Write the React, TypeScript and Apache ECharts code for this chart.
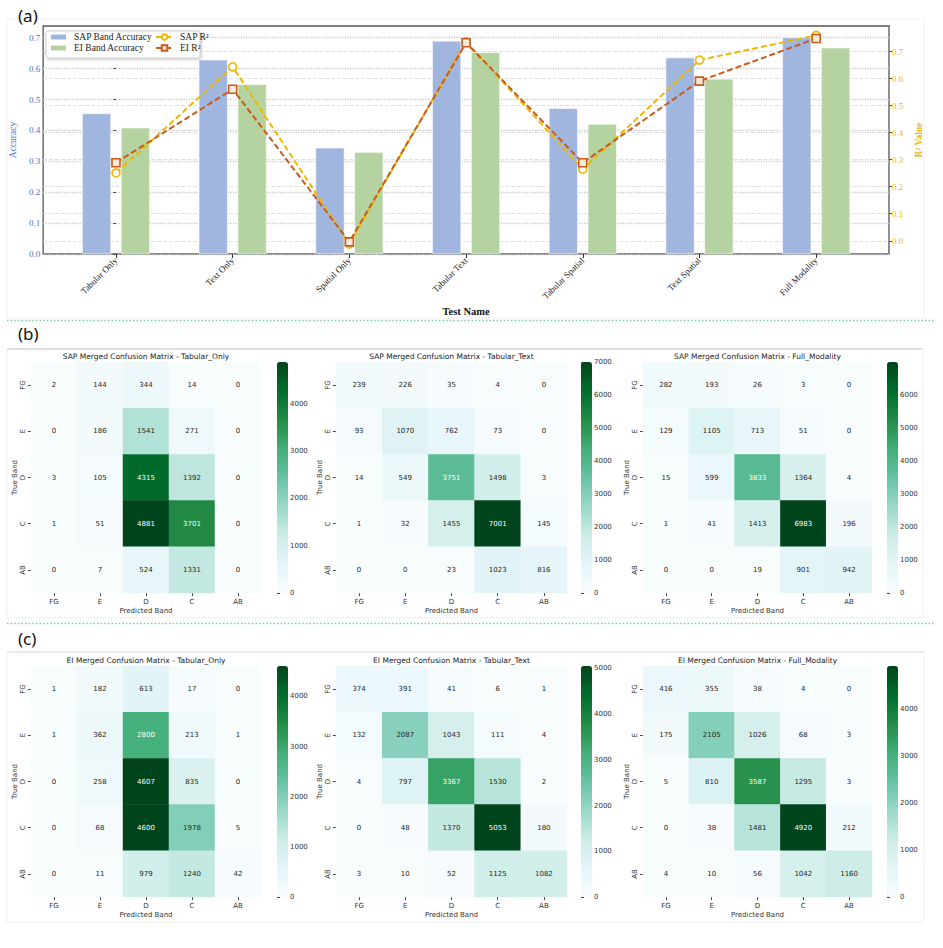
import React, { useEffect, useRef } from "react";
import * as echarts from "echarts";

// ---------- (a) data ----------
const testNames = ["Tabular Only", "Text Only", "Spatial Only", "Tabular Text", "Tabular Spatial", "Text Spatial", "Full Modality"];
const sapAcc = [0.455, 0.629, 0.344, 0.690, 0.472, 0.636, 0.701];
const eiAcc = [0.409, 0.550, 0.330, 0.653, 0.421, 0.567, 0.668];
const sapR2 = [0.251, 0.644, -0.012, 0.737, 0.265, 0.669, 0.760];
const eiR2 = [0.289, 0.561, -0.004, 0.733, 0.289, 0.591, 0.749];
const accTicks = [0, 0.1, 0.2, 0.3, 0.4, 0.5, 0.6, 0.7];
const r2Ticks = [0, 0.1, 0.2, 0.3, 0.4, 0.5, 0.6, 0.7];

// ---------- (b)/(c) data ----------
const bands = ["FG", "E", "D", "C", "AB"];
const sapTabularOnly = [[2, 144, 344, 14, 0], [0, 186, 1541, 271, 0], [3, 105, 4315, 1392, 0], [1, 51, 4881, 3701, 0], [0, 7, 524, 1331, 0]];
const sapTabularText = [[239, 226, 35, 4, 0], [93, 1070, 762, 73, 0], [14, 549, 3751, 1498, 3], [1, 32, 1455, 7001, 145], [0, 0, 23, 1023, 816]];
const sapFullModality = [[282, 193, 26, 3, 0], [129, 1105, 713, 51, 0], [15, 599, 3833, 1364, 4], [1, 41, 1413, 6983, 196], [0, 0, 19, 901, 942]];
const eiTabularOnly = [[1, 182, 613, 17, 0], [1, 362, 2800, 213, 1], [0, 258, 4607, 835, 0], [0, 68, 4600, 1978, 5], [0, 11, 979, 1240, 42]];
const eiTabularText = [[374, 391, 41, 6, 1], [132, 2087, 1043, 111, 4], [4, 797, 3367, 1530, 2], [0, 48, 1370, 5053, 180], [3, 10, 52, 1125, 1082]];
const eiFullModality = [[416, 355, 38, 4, 0], [175, 2105, 1026, 68, 3], [5, 810, 3587, 1295, 3], [0, 38, 1481, 4920, 212], [4, 10, 56, 1042, 1160]];
const cbTicks4 = [0, 1000, 2000, 3000, 4000];
const cbTicks5 = [0, 1000, 2000, 3000, 4000, 5000];
const cbTicks6 = [0, 1000, 2000, 3000, 4000, 5000, 6000];
const cbTicks7 = [0, 1000, 2000, 3000, 4000, 5000, 6000, 7000];
const matrixTitles = [
  "SAP Merged Confusion Matrix - Tabular_Only",
  "SAP Merged Confusion Matrix - Tabular_Text",
  "SAP Merged Confusion Matrix - Full_Modality",
  "EI Merged Confusion Matrix - Tabular_Only",
  "EI Merged Confusion Matrix - Tabular_Text",
  "EI Merged Confusion Matrix - Full_Modality",
];
const matrixData = [sapTabularOnly, sapTabularText, sapFullModality, eiTabularOnly, eiTabularText, eiFullModality];
const matrixTicks = [cbTicks4, cbTicks7, cbTicks6, cbTicks4, cbTicks5, cbTicks4];

const BUGN = ["#f7fcfd", "#e5f5f9", "#ccece6", "#99d8c9", "#66c2a4", "#41ae76", "#238b45", "#006d2c", "#00441b"];

function hexToRgb(h: string) {
  return [parseInt(h.slice(1, 3), 16), parseInt(h.slice(3, 5), 16), parseInt(h.slice(5, 7), 16)];
}
function bugnAt(t: number) {
  const n = BUGN.length - 1;
  const x = Math.max(0, Math.min(1, t)) * n;
  const i = Math.min(n - 1, Math.floor(x));
  const f = x - i;
  const a = hexToRgb(BUGN[i]);
  const b = hexToRgb(BUGN[i + 1]);
  return a.map((v, k) => v + (b[k] - v) * f);
}
function textColorFor(t: number) {
  const lin = bugnAt(t).map((v) => {
    const c = v / 255;
    return c <= 0.03928 ? c / 12.92 : Math.pow((c + 0.055) / 1.055, 2.4);
  });
  const L = 0.2126 * lin[0] + 0.7152 * lin[1] + 0.0722 * lin[2];
  return L < 0.408 ? "#ffffff" : "#262626";
}

const SERIF = "Liberation Serif";
const SANS = "DejaVu Sans";
const BLUE_TXT = "#4a72cf";
const GOLD = "#f2b600";
const ORANGE = "#c85a1c";

// layout
const colLeft = [31, 336, 643];
const colWidth = [230, 231, 229];
const cbLeft = [277, 581, 887];
const cbWidth = 11;
const rowTop = [362, 666];
const cellH = 231;

function buildOption() {
  const grid: any[] = [{ left: 41, top: 26, width: 848, height: 228, show: true, borderColor: "#555", borderWidth: 1.3, backgroundColor: "transparent" }];
  const xAxis: any[] = [
    {
      type: "value",
      gridIndex: 0,
      min: -0.624,
      max: 6.624,
      axisLine: { show: false },
      splitLine: { show: false },
      axisTick: { show: true, customValues: testNames.map((_, i) => i), length: 4, lineStyle: { color: "#333" } },
      axisLabel: {
        customValues: testNames.map((_, i) => i),
        formatter: (v: number) => testNames[Math.round(v)],
        rotate: 45,
        fontFamily: SERIF,
        fontSize: 9,
        color: "#222",
        margin: 5,
      },
      name: "Test Name",
      nameLocation: "middle",
      nameGap: 52,
      nameTextStyle: { fontFamily: SERIF, fontWeight: "bold", fontSize: 10.5, color: "#111" },
    },
  ];
  const yAxis: any[] = [
    {
      type: "value",
      gridIndex: 0,
      min: 0,
      max: 0.738,
      axisLine: { show: false },
      axisTick: { show: true, customValues: accTicks, length: 3, lineStyle: { color: "#555" } },
      axisLabel: { customValues: accTicks, formatter: (v: number) => v.toFixed(1), color: BLUE_TXT, fontFamily: SERIF, fontSize: 9, margin: 3 },
      splitLine: { show: true, lineStyle: { color: "#c9c9c9", type: "dotted", width: 1.3 } },
      name: "Accuracy",
      nameLocation: "middle",
      nameGap: 18,
      nameTextStyle: { fontFamily: SERIF, fontSize: 9.5, color: BLUE_TXT },
    },
    {
      type: "value",
      gridIndex: 0,
      position: "right",
      min: -0.049,
      max: 0.795,
      axisLine: { show: false },
      axisTick: { show: true, customValues: r2Ticks, length: 3, lineStyle: { color: "#555" } },
      axisLabel: { customValues: r2Ticks, formatter: (v: number) => v.toFixed(1), color: GOLD, fontFamily: SERIF, fontSize: 9, margin: 3 },
      splitLine: { show: true, lineStyle: { color: "#e0e0e0", type: "dashed", width: 1 } },
      name: "R² Value",
      nameLocation: "middle",
      nameGap: 20,
      nameTextStyle: { fontFamily: SERIF, fontSize: 9.5, fontWeight: "bold", color: GOLD },
    },
  ];
  const series: any[] = [
    {
      name: "SAP Band Accuracy",
      type: "bar",
      xAxisIndex: 0,
      yAxisIndex: 0,
      data: sapAcc.map((v, i) => [i, v]),
      barWidth: 29,
      barGap: "34%",
      itemStyle: { color: "#a0b6de", borderColor: "#ffffff", borderWidth: 0.6 },
      z: 2,
    },
    {
      name: "EI Band Accuracy",
      type: "bar",
      xAxisIndex: 0,
      yAxisIndex: 0,
      data: eiAcc.map((v, i) => [i, v]),
      barWidth: 29,
      barGap: "34%",
      itemStyle: { color: "#b5d3a0", borderColor: "#ffffff", borderWidth: 0.6 },
      z: 2,
    },
    {
      name: "SAP R²",
      type: "line",
      xAxisIndex: 0,
      yAxisIndex: 1,
      data: sapR2.map((v, i) => [i, v]),
      symbol: "circle",
      symbolSize: 8,
      lineStyle: { color: GOLD, width: 2, type: [6, 3] },
      itemStyle: { color: "#ffffff", borderColor: GOLD, borderWidth: 1.6 },
      z: 5,
    },
    {
      name: "EI R²",
      type: "line",
      xAxisIndex: 0,
      yAxisIndex: 1,
      data: eiR2.map((v, i) => [i, v]),
      symbol: "rect",
      symbolSize: 8,
      lineStyle: { color: ORANGE, width: 2, type: [6, 3] },
      itemStyle: { color: "#fbe9dc", borderColor: ORANGE, borderWidth: 1.6 },
      z: 6,
    },
  ];
  const visualMap: any[] = [];
  const graphic: any[] = [];

  matrixData.forEach((m, k) => {
    const row = Math.floor(k / 3);
    const col = k % 3;
    const maxV = Math.max(...m.flat());
    const gi = grid.length;
    grid.push({ left: colLeft[col], top: rowTop[row], width: colWidth[col], height: cellH });
    const xi = xAxis.length;
    xAxis.push({
      type: "category",
      gridIndex: gi,
      data: bands,
      position: "bottom",
      axisLine: { show: false },
      axisTick: { show: true, alignWithLabel: true, length: 3, lineStyle: { color: "#444" } },
      axisLabel: { fontFamily: SANS, fontSize: 7, color: "#333", margin: 5 },
      splitLine: { show: false },
      name: "Predicted Band",
      nameLocation: "middle",
      nameGap: 14,
      nameTextStyle: { fontFamily: SANS, fontSize: 7, color: "#333" },
    });
    const yi = yAxis.length;
    yAxis.push({
      type: "category",
      gridIndex: gi,
      data: bands,
      inverse: true,
      axisLine: { show: false },
      axisTick: { show: true, alignWithLabel: true, length: 3, lineStyle: { color: "#444" } },
      axisLabel: { fontFamily: SANS, fontSize: 7, color: "#333", rotate: 90, margin: 5 },
      splitLine: { show: false },
      name: "True Band",
      nameLocation: "middle",
      nameGap: 13,
      nameTextStyle: { fontFamily: SANS, fontSize: 7, color: "#333" },
    });
    const si = series.length;
    series.push({
      type: "heatmap",
      xAxisIndex: xi,
      yAxisIndex: yi,
      data: m.flatMap((r, ri) => r.map((v, ci) => ({ value: [ci, ri, v], label: { color: textColorFor(v / maxV) } }))),
      label: { show: true, fontFamily: SANS, fontSize: 7 },
      emphasis: { disabled: true },
      itemStyle: { borderWidth: 0 },
    });
    visualMap.push({
      type: "continuous",
      seriesIndex: si,
      min: 0,
      max: maxV,
      inRange: { color: BUGN },
      orient: "vertical",
      left: cbLeft[col],
      top: rowTop[row],
      itemWidth: cbWidth,
      itemHeight: cellH,
      padding: 0,
      calculable: false,
      hoverLink: false,
      text: null,
      showLabel: false,
    });
    // colorbar tick axis
    const cgi = grid.length;
    grid.push({ left: cbLeft[col], top: rowTop[row], width: cbWidth, height: cellH });
    xAxis.push({ type: "value", gridIndex: cgi, show: false, min: 0, max: 1 });
    yAxis.push({
      type: "value",
      gridIndex: cgi,
      position: "right",
      min: 0,
      max: maxV,
      axisLine: { show: false },
      axisTick: { show: true, customValues: matrixTicks[k], length: 3, lineStyle: { color: "#444" } },
      axisLabel: { customValues: matrixTicks[k], formatter: (v: number) => String(Math.round(v)), fontFamily: SANS, fontSize: 7, color: "#333", margin: 2 },
      splitLine: { show: false },
    });
    graphic.push({
      type: "text",
      x: colLeft[col] + colWidth[col] / 2,
      y: rowTop[row] - 6,
      style: {
        text: matrixTitles[k],
        fontFamily: SANS,
        fontSize: 7.5,
        fill: "#222",
        align: "center",
        textAlign: "center",
        verticalAlign: "middle",
        textVerticalAlign: "middle",
      },
    });
  });

  // panel decorations
  graphic.push(
    { type: "rect", shape: { x: 7, y: 19, width: 917, height: 299 }, style: { fill: "none", stroke: "#f0f0f0", lineWidth: 1 }, z: 0 },
    { type: "rect", shape: { x: 7, y: 349, width: 916, height: 269 }, style: { fill: "none", stroke: "#f0f0f0", lineWidth: 1 }, z: 0 },
    { type: "line", shape: { x1: 7, y1: 349, x2: 923, y2: 349 }, style: { stroke: "#c8c8c8", lineWidth: 1 }, z: 0 },
    { type: "rect", shape: { x: 7, y: 652, width: 917, height: 270 }, style: { fill: "none", stroke: "#f0f0f0", lineWidth: 1 }, z: 0 },
    { type: "line", shape: { x1: 7, y1: 652, x2: 924, y2: 652 }, style: { stroke: "#dcdcdc", lineWidth: 1 }, z: 0 },
    { type: "line", shape: { x1: 7, y1: 320.5, x2: 935, y2: 320.5 }, style: { stroke: "#7fcdb0", lineWidth: 1.6, lineDash: [1.6, 2] }, z: 0 },
    { type: "line", shape: { x1: 7, y1: 623.5, x2: 935, y2: 623.5 }, style: { stroke: "#7fcdb0", lineWidth: 1.6, lineDash: [1.6, 2] }, z: 0 },
    { type: "text", x: 18, y: 15, style: { text: "(a)", fontFamily: "Noto Sans", fontSize: 17, fill: "#111", verticalAlign: "middle", textVerticalAlign: "middle" } },
    { type: "text", x: 18, y: 333, style: { text: "(b)", fontFamily: "Noto Sans", fontSize: 17, fill: "#111", verticalAlign: "middle", textVerticalAlign: "middle" } },
    { type: "text", x: 18, y: 638, style: { text: "(c)", fontFamily: "Noto Sans", fontSize: 17, fill: "#111", verticalAlign: "middle", textVerticalAlign: "middle" } },
    {
      type: "rect",
      shape: { x: 46, y: 31, width: 154, height: 27, r: 2 },
      style: { fill: "#ffffff", stroke: "#cfcfcf", lineWidth: 1, shadowBlur: 3, shadowColor: "rgba(0,0,0,0.25)", shadowOffsetX: 1, shadowOffsetY: 1 },
      z: 50,
    }
  );

  const legendBase = {
    orient: "vertical",
    top: 32,
    itemGap: 1,
    itemWidth: 17,
    itemHeight: 7,
    selectedMode: false,
    z: 60,
    padding: 0,
    textStyle: { fontFamily: SERIF, fontSize: 9.5, color: "#222", padding: [0, 0, 0, 2] },
  };

  return {
    animation: false,
    backgroundColor: "#ffffff",
    grid,
    xAxis,
    yAxis,
    visualMap,
    series,
    graphic,
    legend: [
      { ...legendBase, left: 49, data: ["SAP Band Accuracy", "EI Band Accuracy"] },
      { ...legendBase, left: 155, data: ["SAP R²", "EI R²"] },
    ],
  };
}

export default function App() {
  const ref = useRef<HTMLDivElement>(null);
  useEffect(() => {
    document.body.style.margin = "0";
    document.body.style.overflow = "hidden";
    if (!ref.current) return;
    const chart = echarts.init(ref.current, null, { renderer: "svg" });
    chart.setOption(buildOption() as any);
    return () => {
      chart.dispose();
    };
  }, []);
  return <div ref={ref} style={{ width: 943, height: 948 }} />;
}
